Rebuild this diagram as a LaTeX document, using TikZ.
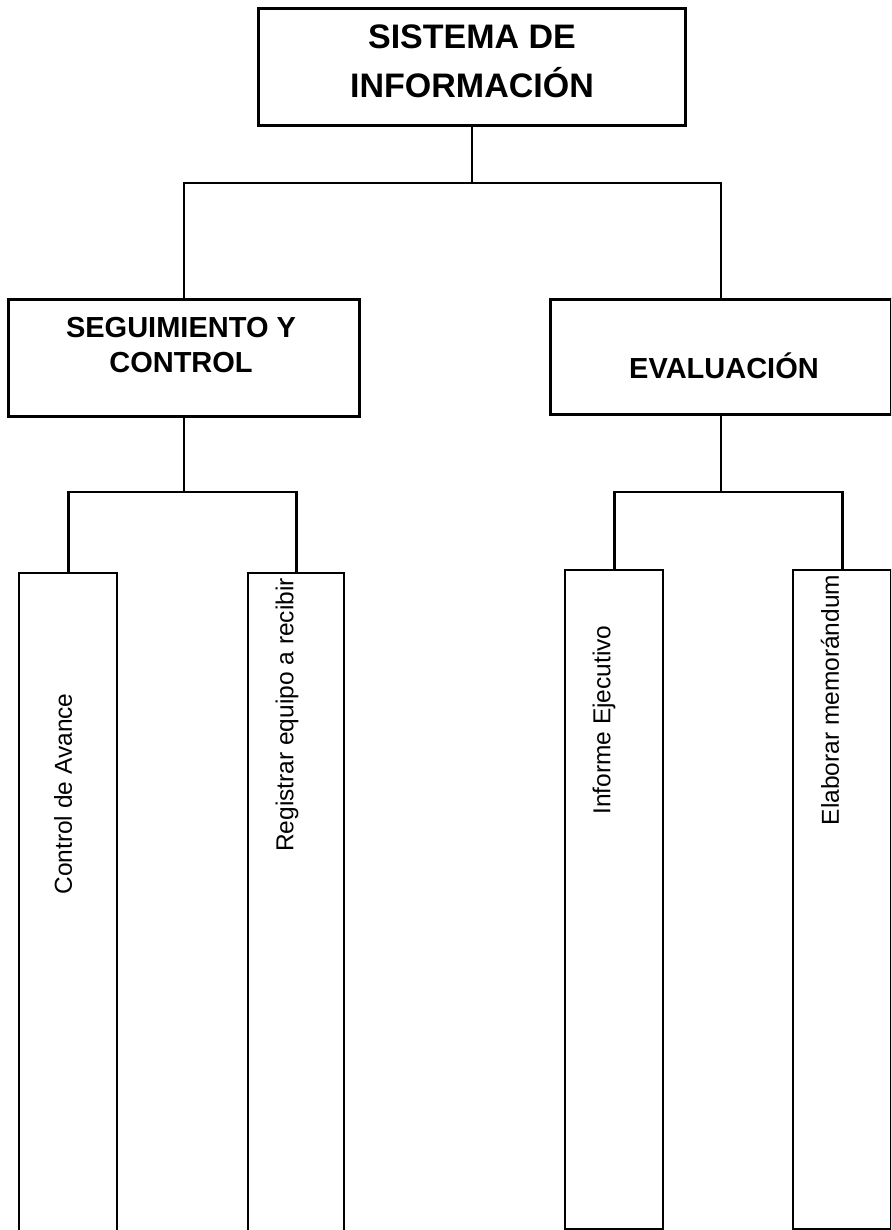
\documentclass[tikz,border=0pt]{standalone}
\usepackage{fontspec}
\setmainfont{Liberation Sans}
\begin{document}
\begin{tikzpicture}[x=1pt,y=-1pt,
  boxline/.style={draw=black,line width=2.9pt,rectangle,inner sep=0pt,anchor=north west},
  tallbox/.style={boxline,line width=2.4pt},
  conn/.style={draw=black,line width=2.9pt},
  headtext/.style={align=center,font=\bfseries\fontsize{29}{35}\selectfont,inner sep=0pt},
  leaftext/.style={rotate=90,font=\fontsize{24.5}{30}\selectfont,inner sep=0pt}]
\clip (0,0) rectangle (891,1230);
\fill[white] (0,0) rectangle (891,1230);

% top level
\node[boxline,minimum width=427pt,minimum height=117pt] (top) at (257,7) {};
\node[align=center,inner sep=0pt,font=\bfseries\fontsize{34}{49}\selectfont] (toptext) at (472,61) {SISTEMA DE\\INFORMACIÓN};

% second level
\node[boxline,minimum width=351pt,minimum height=117pt] (seg) at (7,298) {};
\node[headtext] (segtext) at (181,345) {SEGUIMIENTO Y\\CONTROL};
\node[boxline,minimum width=341pt,minimum height=115pt] (eva) at (549,298) {};
\node[headtext] (evatext) at (724,366) {EVALUACIÓN};

% third level
\node[tallbox,minimum width=98pt,minimum height=700pt] (ca) at (18,572) {};
\node[tallbox,minimum width=96pt,minimum height=700pt] (re) at (247,572) {};
\node[tallbox,minimum width=98pt,minimum height=659pt] (ie) at (564,569) {};
\node[tallbox,minimum width=98pt,minimum height=659pt] (em) at (792,569) {};
\node[leaftext] (catext) at (63,794) {Control de Avance};
\node[leaftext] (retext) at (287,715) {Registrar equipo a recibir};
\node[leaftext] (ietext) at (604,720) {Informe Ejecutivo};
\node[leaftext] (emtext) at (830,700) {Elaborar memorándum};

% connectors
\coordinate (lvlA) at (0,183);
\coordinate (lvlB) at (0,492);
\draw[conn] (top.south) -- (top.south |- lvlA);
\draw[conn] (seg.north) -- (seg.north |- lvlA) -- (eva.north |- lvlA) -- (eva.north);
\draw[conn] (seg.south) -- (seg.south |- lvlB);
\draw[conn] (ca.north) -- (ca.north |- lvlB) -- (re.north |- lvlB) -- (re.north);
\draw[conn] (eva.south) -- (eva.south |- lvlB);
\draw[conn] (ie.north) -- (ie.north |- lvlB) -- (em.north |- lvlB) -- (em.north);
\end{tikzpicture}
\end{document}
